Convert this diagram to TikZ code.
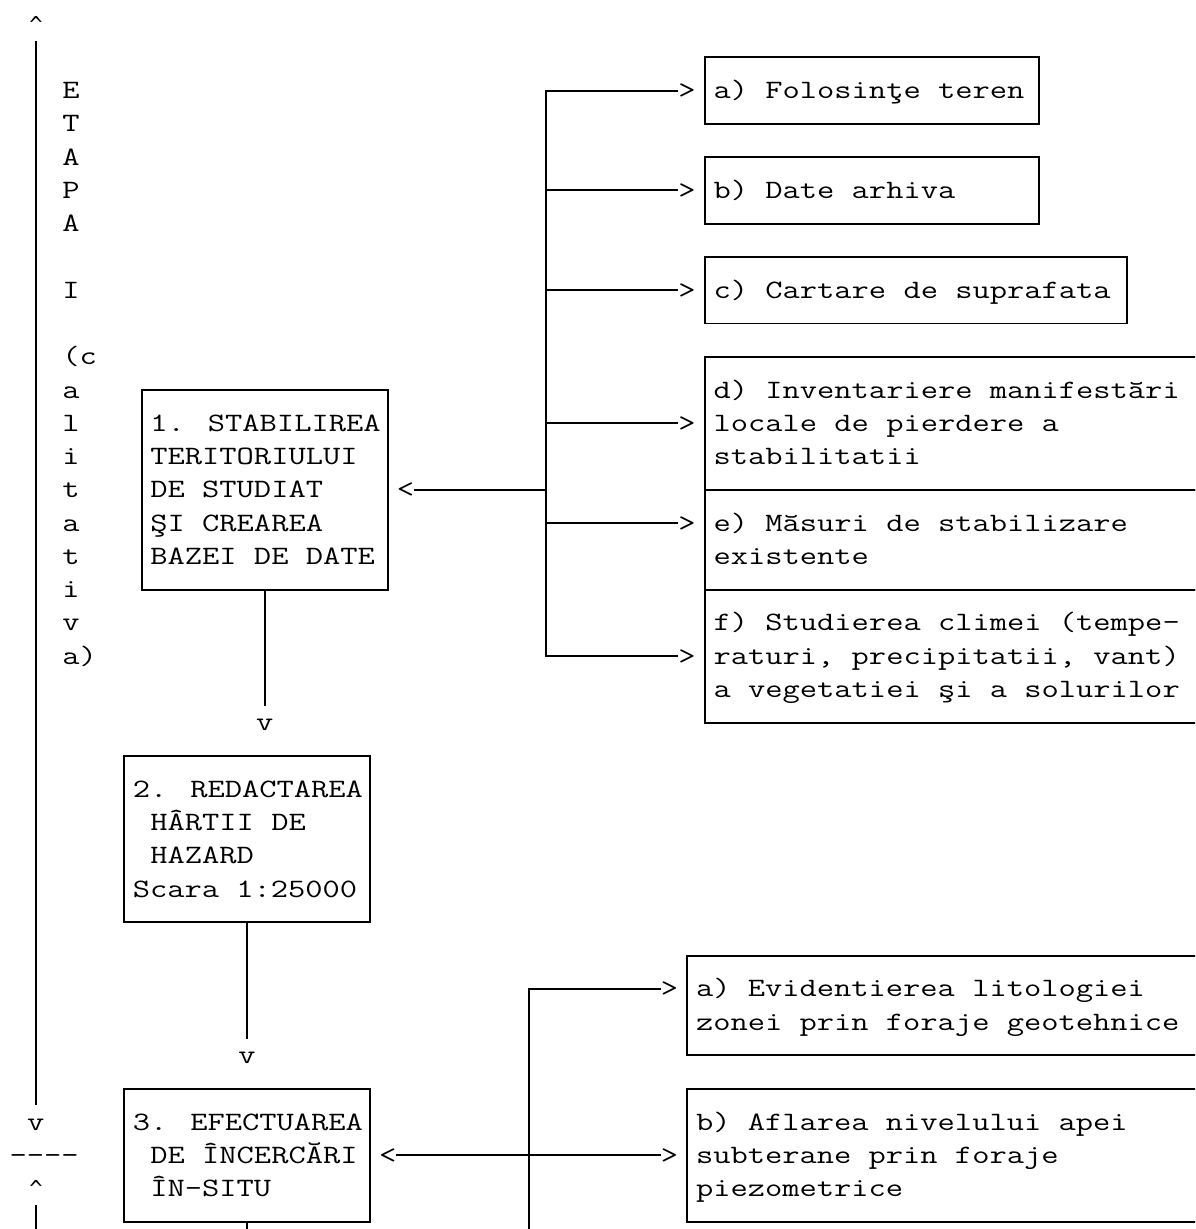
\documentclass[tikz,border=0pt]{standalone}
\usepackage{graphicx}
\font\caretfont="DejaVu Sans Mono" at 22pt
\newcommand\stch[1]{\scalebox{1.2651}[1]{#1}}
\def\X#1{(36+17.6*(#1))}
\def\Y#1{(-57.3-33.27*(#1))}
\tikzset{
  ln/.style={line width=1.9pt},
  txt/.style={inner sep=0pt, outer sep=0pt, anchor=base west,
    font=\ttfamily\fontsize{26.5}{33.27}\selectfont},
  caret/.style={inner sep=0pt, outer sep=0pt, anchor=base, font=\caretfont},
  boxn/.style={draw, line width=1.9pt, inner sep=0pt, outer sep=0pt, anchor=north west},
}
% text line: name, column, row, text
\newcommand\tl[4]{\node[txt] (#1) at ({\X{#2}-8.8},{\Y{#3}-8.1}) {\stch{#4}};}
% caret glyph: name, column, row
\newcommand\caretnode[3]{\node[caret] (#1) at ({\X{#2}},{\Y{#3}-8.1}) {\char"5E};}
% box: name, left col, top row, right col, bottom row
\newcommand\bx[5]{\node[boxn, minimum width={17.6*(#4-#2)}, minimum height={33.27*(#5-#3)}] (#1) at ({\X{#2}},{\Y{#3}}) {};}
\begin{document}
\begin{tikzpicture}[x=1pt,y=1pt]
\useasboundingbox (0,0) rectangle (1195,-1229);
\fill[white] (0,0) rectangle (1195,-1229);
\clip (0,0) rectangle (1195,-1229);

% ---------- left stage column ----------
\caretnode{up1}{0}{-1}
\coordinate (L0) at ({\X{0}},{\Y{-0.5}});
\coordinate (L1) at ({\X{0}},{\Y{31.5}});
\draw[ln] (L0) -- (L1);
\tl{dn1}{0}{32}{v}
\tl{sep}{-1}{33}{-{}-{}-{}-}
\caretnode{up2}{0}{34}
\coordinate (L2) at ({\X{0}},{\Y{34.5}});
\coordinate (L3) at ({\X{0}},-1240);
\draw[ln] (L2) -- (L3);
\foreach \r/\s in {1/E,2/T,3/A,4/P,5/A,7/I,9/{(c},10/a,11/l,12/i,13/t,14/a,15/t,16/i,17/v,18/{a)}}
  {\tl{S\r}{2}{\r}{\s}}

% ---------- main boxes ----------
\bx{B1}{6}{10}{20}{16}
\tl{T11}{7}{11}{1. STABILIREA}
\tl{T12}{7}{12}{TERITORIULUI}
\tl{T13}{7}{13}{DE STUDIAT}
\tl{T14}{7}{14}{ŞI CREAREA}
\tl{T15}{7}{15}{BAZEI DE DATE}

\coordinate (v1e) at ({\X{13}},{\Y{19.5}});
\draw[ln] (B1.south) -- (v1e);
\tl{v1}{13}{20}{v}

\bx{B2}{5}{21}{19}{26}
\tl{T21}{6}{22}{2. REDACTAREA}
\tl{T22}{7}{23}{HÂRTII DE}
\tl{T23}{7}{24}{HAZARD}
\tl{T24}{6}{25}{Scara 1:25000}

\coordinate (v2e) at ({\X{12}},{\Y{29.5}});
\draw[ln] (B2.south) -- (v2e);
\tl{v2}{12}{30}{v}

\bx{B3}{5}{31}{19}{35}
\tl{T31}{6}{32}{3. EFECTUAREA}
\tl{T32}{7}{33}{DE ÎNCERCĂRI}
\tl{T33}{7}{34}{ÎN-SITU}
\coordinate (B3e) at ({\X{12}},-1240);
\draw[ln] (B3.south) -- (B3e);

% ---------- upper branch boxes ----------
\bx{Ba}{38}{0}{57}{2}
\tl{Ta}{39}{1}{a) Folosinţe teren}
\bx{Bb}{38}{3}{57}{5}
\tl{Tb}{39}{4}{b) Date arhiva}
\bx{Bc}{38}{6}{62}{8}
\tl{Tc}{39}{7}{c) Cartare de suprafata}
\bx{Bd}{38}{9}{66}{13}
\tl{Td1}{39}{10}{d) Inventariere manifestări}
\tl{Td2}{39}{11}{locale de pierdere a}
\tl{Td3}{39}{12}{stabilitatii}
\bx{Be}{38}{13}{66}{16}
\tl{Te1}{39}{14}{e) Măsuri de stabilizare}
\tl{Te2}{39}{15}{existente}
\bx{Bf}{38}{16}{66}{20}
\tl{Tf1}{39}{17}{f) Studierea climei (tempe-}
\tl{Tf2}{39}{18}{raturi, precipitatii, vant)}
\tl{Tf3}{39}{19}{a vegetatiei şi a solurilor}

% arrow glyphs upper
\tl{gA}{37}{1}{>}
\tl{gB}{37}{4}{>}
\tl{gC}{37}{7}{>}
\tl{gD}{37}{11}{>}
\tl{gE}{37}{14}{>}
\tl{gF}{37}{18}{>}
\tl{gL}{21}{13}{<}

\coordinate (tA) at ({\X{29}},{\Y{1}});
\coordinate (tB) at ({\X{29}},{\Y{4}});
\coordinate (tC) at ({\X{29}},{\Y{7}});
\coordinate (tD) at ({\X{29}},{\Y{11}});
\coordinate (tL) at ({\X{29}},{\Y{13}});
\coordinate (tE) at ({\X{29}},{\Y{14}});
\coordinate (tF) at ({\X{29}},{\Y{18}});
\draw[ln] (tA -| gA.west) -- (tA) -- (tF) -- (tF -| gF.west);
\draw[ln] (tB) -- (tB -| gB.west);
\draw[ln] (tC) -- (tC -| gC.west);
\draw[ln] (tD) -- (tD -| gD.west);
\draw[ln] (tE) -- (tE -| gE.west);
\draw[ln] (tL) -- (tL -| gL.east);

% ---------- lower branch boxes ----------
\bx{Ca}{37}{27}{66}{30}
\tl{Ua1}{38}{28}{a) Evidentierea litologiei}
\tl{Ua2}{38}{29}{zonei prin foraje geotehnice}
\bx{Cb}{37}{31}{66}{35}
\tl{Ub1}{38}{32}{b) Aflarea nivelului apei}
\tl{Ub2}{38}{33}{subterane prin foraje}
\tl{Ub3}{38}{34}{piezometrice}

\tl{hA}{36}{28}{>}
\tl{hB}{36}{33}{>}
\tl{hL}{20}{33}{<}
\coordinate (sA) at ({\X{28}},{\Y{28}});
\coordinate (sB) at ({\X{28}},{\Y{33}});
\coordinate (sEnd) at ({\X{28}},-1240);
\draw[ln] (sA -| hA.west) -- (sA) -- (sEnd);
\draw[ln] (sB -| hL.east) -- (sB -| hB.west);
\end{tikzpicture}
\end{document}
